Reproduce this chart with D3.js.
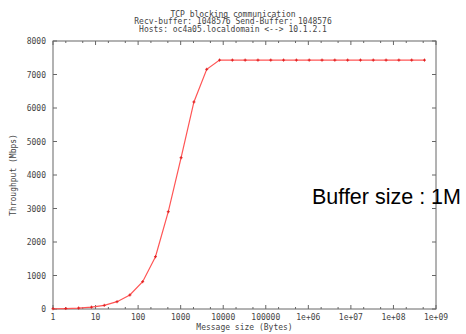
<!DOCTYPE html>
<html>
<head>
<meta charset="utf-8">
<script src="https://cdn.jsdelivr.net/npm/d3@7"></script>
<style>
  body { margin: 0; background: #fff; }
  svg text { font-family: "DejaVu Sans Mono", monospace; }
</style>
</head>
<body>
<figure id="plot" style="margin:0"></figure>
<script>
// message sizes are powers of two, 2^0 .. 2^29
const sizes = [1, 2, 4, 8, 16, 32, 64, 128, 256, 512, 1024, 2048, 4096, 8192,
  16384, 32768, 65536, 131072, 262144, 524288, 1048576, 2097152, 4194304,
  8388608, 16777216, 33554432, 67108864, 134217728, 268435456, 536870912];
const throughput = [7, 14, 28, 55, 110, 218, 418, 815, 1561, 2904, 4516, 6180, 7155, 7430,
  7430, 7430, 7430, 7430, 7430, 7430, 7430, 7430, 7430,
  7430, 7430, 7430, 7430, 7430, 7430, 7430];
const xTicks = [1, 10, 100, 1000, 10000, 100000, 1e6, 1e7, 1e8, 1e9];
const xTickLabels = ["1", "10", "100", "1000", "10000", "100000", "1e+06", "1e+07", "1e+08", "1e+09"];
const yTicks = [0, 1000, 2000, 3000, 4000, 5000, 6000, 7000, 8000];
const titleLines = [
  "TCP blocking communication",
  "Recv-buffer: 1048576 Send-Buffer: 1048576",
  "Hosts: oc4a05.localdomain <--> 10.1.2.1"
];

const W = 466, H = 334;
const pLeft = 53, pRight = 436, pTop = 41, pBottom = 309;
const axisColor = "#666";
const textColor = "#444";

const svg = d3.select("figure#plot").append("svg")
  .attr("width", W).attr("height", H);

const x = d3.scaleLog().domain([1, 1e9]).range([pLeft, pRight]);
const y = d3.scaleLinear().domain([0, 8000]).range([pBottom, pTop]);

// minor ticks at 2 and 5 of each decade
const minor = [];
for (let e = 0; e < 9; e++) { minor.push(2 * 10 ** e, 5 * 10 ** e); }

// bottom axis, ticks pointing inward
const bottomAxis = svg.append("g").attr("transform", "translate(0," + pBottom + ")");
bottomAxis.selectAll("line.maj").data(xTicks).enter().append("line")
  .attr("x1", d => x(d)).attr("x2", d => x(d)).attr("y1", 0).attr("y2", -4)
  .attr("stroke", axisColor);
bottomAxis.selectAll("line.min").data(minor).enter().append("line")
  .attr("x1", d => x(d)).attr("x2", d => x(d)).attr("y1", 0).attr("y2", -2)
  .attr("stroke", axisColor);
bottomAxis.selectAll("text").data(xTicks).enter().append("text")
  .attr("x", d => x(d)).attr("y", 11)
  .attr("text-anchor", "middle").attr("font-size", 8).attr("fill", textColor)
  .text((d, i) => xTickLabels[i]);

// top axis mirror
const topAxis = svg.append("g").attr("transform", "translate(0," + pTop + ")");
topAxis.selectAll("line.maj").data(xTicks).enter().append("line")
  .attr("x1", d => x(d)).attr("x2", d => x(d)).attr("y1", 0).attr("y2", 4)
  .attr("stroke", axisColor);
topAxis.selectAll("line.min").data(minor).enter().append("line")
  .attr("x1", d => x(d)).attr("x2", d => x(d)).attr("y1", 0).attr("y2", 2)
  .attr("stroke", axisColor);

// left axis
const leftAxis = svg.append("g").attr("transform", "translate(" + pLeft + ",0)");
leftAxis.selectAll("line").data(yTicks).enter().append("line")
  .attr("x1", 0).attr("x2", 4).attr("y1", d => y(d)).attr("y2", d => y(d))
  .attr("stroke", axisColor);
leftAxis.selectAll("text").data(yTicks).enter().append("text")
  .attr("x", -7).attr("y", d => y(d) + 3)
  .attr("text-anchor", "end").attr("font-size", 8).attr("fill", textColor)
  .text(d => d);

// right axis mirror
const rightAxis = svg.append("g").attr("transform", "translate(" + pRight + ",0)");
rightAxis.selectAll("line").data(yTicks).enter().append("line")
  .attr("x1", 0).attr("x2", -4).attr("y1", d => y(d)).attr("y2", d => y(d))
  .attr("stroke", axisColor);

// frame
svg.append("rect")
  .attr("x", pLeft).attr("y", pTop)
  .attr("width", pRight - pLeft).attr("height", pBottom - pTop)
  .attr("fill", "none").attr("stroke", axisColor);

// data line and points
const pts = sizes.map((s, i) => [s, throughput[i]]);
svg.append("path")
  .datum(pts)
  .attr("fill", "none")
  .attr("stroke", "#ff5555")
  .attr("stroke-width", 1.2)
  .attr("d", d3.line().x(d => x(d[0])).y(d => y(d[1])));

svg.selectAll("path.pt").data(pts).enter().append("path")
  .attr("d", d => "M" + (x(d[0]) - 1.5) + "," + y(d[1]) + "h3M" + x(d[0]) + "," + (y(d[1]) - 1.5) + "v3")
  .attr("stroke", "#e02020").attr("stroke-width", 1);

// titles and labels
svg.selectAll("text.title").data(titleLines).enter().append("text")
  .attr("x", 233).attr("y", (d, i) => 16.5 + i * 7.5)
  .attr("text-anchor", "middle").attr("font-size", 8).attr("fill", textColor)
  .text(d => d);

svg.append("text")
  .attr("x", (pLeft + pRight) / 2).attr("y", 330)
  .attr("text-anchor", "middle").attr("font-size", 8).attr("fill", textColor)
  .text("Message size (Bytes)");

svg.append("text")
  .attr("transform", "translate(16," + ((pTop + pBottom) / 2) + ") rotate(-90)")
  .attr("text-anchor", "middle").attr("font-size", 8).attr("fill", textColor)
  .text("Throughput (Mbps)");

svg.append("text")
  .attr("x", 312).attr("y", 204)
  .style("font-family", "'Liberation Sans', Arial, sans-serif")
  .attr("font-size", 21.5).attr("fill", "#000")
  .text("Buffer size : 1M");
</script>
</body>
</html>
